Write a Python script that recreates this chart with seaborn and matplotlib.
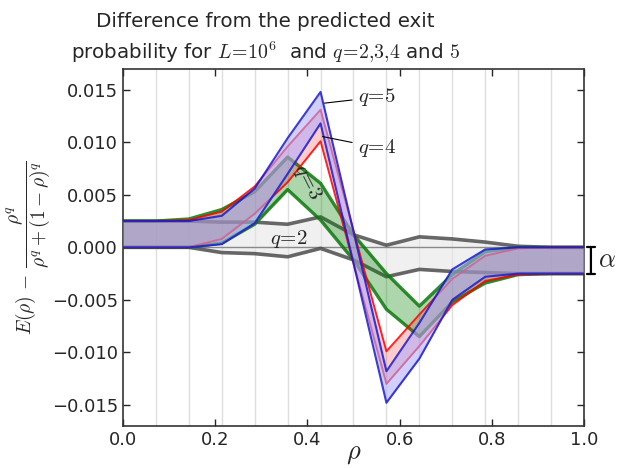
import numpy as np
import pandas as pd
import matplotlib
matplotlib.use('Agg')
import matplotlib.pyplot as plt
import seaborn as sns

# rho sampled at k/14
rho = np.arange(15) / 14.0

q2_hi = [0.0025, 0.0025, 0.0025, 0.0024, 0.0024, 0.0022, 0.0029, 0.0012, 0.0002, 0.0010, 0.0008, 0.0005, 0.0001, 0.0, 0.0]
q2_lo = [0.0, 0.0, 0.0, -0.0005, -0.0006, -0.0009, -0.0001, -0.0012, -0.0028, -0.0021, -0.0023, -0.0024, -0.0025, -0.0025, -0.0025]

q3_hi = [0.0025, 0.0025, 0.0027, 0.0036, 0.0053, 0.0086, 0.0061, 0.0012, -0.0025, -0.0056, -0.0026, -0.0004, 0.0, 0.0, 0.0]
q3_lo = [0.0, 0.0, 0.0, 0.0004, 0.0022, 0.0055, 0.0026, -0.0012, -0.0059, -0.0085, -0.0052, -0.0034, -0.0026, -0.0025, -0.0025]

q4_hi = [0.0025, 0.0025, 0.0026, 0.0034, 0.0058, 0.0096, 0.0131, 0.0016, -0.0099, -0.0064, -0.0030, -0.0008, -0.0001, 0.0, 0.0]
q4_lo = [0.0, 0.0, 0.0, 0.0008, 0.0032, 0.0062, 0.0101, -0.0015, -0.0130, -0.0094, -0.0055, -0.0032, -0.0026, -0.0025, -0.0025]

q5_hi = [0.0025, 0.0025, 0.0025, 0.0030, 0.0056, 0.0104, 0.0148, 0.0015, -0.0118, -0.0072, -0.0021, -0.0002, 0.0, 0.0, 0.0]
q5_lo = [0.0, 0.0, 0.0, 0.0003, 0.0023, 0.0070, 0.0118, -0.0015, -0.0148, -0.0106, -0.0050, -0.0028, -0.0025, -0.0025, -0.0025]

# (label, upper, lower, edge colour, fill colour, fill alpha, edge width)
bands = [
    ('2', q2_hi, q2_lo, '0.3', '0.9', 0.6, 2.6),
    ('3', q3_hi, q3_lo, '#0c780c', 'green', 0.32, 2.4),
    ('4', q4_hi, q4_lo, 'red', 'red', 0.2, 1.4),
    ('5', q5_hi, q5_lo, '#1a1ad0', (0.68, 0.67, 1.0), 0.57, 1.5),
]

sns.set_style('ticks')
plt.rcParams['font.family'] = ['DejaVu Sans']
plt.rcParams['mathtext.fontset'] = 'cm'

fig = plt.figure(figsize=(6.18, 4.68), dpi=100)
ax = fig.add_axes([0.199, 0.09, 0.746, 0.763])

for xv in rho[1:-1]:
    ax.axvline(xv, color='0.87', lw=1, zorder=0)
ax.axhline(0, color='k', lw=1, zorder=1)

z = 2
for q, hi, lo, ec, fc, a, lw in bands:
    df = pd.DataFrame({'rho': rho, 'hi': hi, 'lo': lo})
    ax.fill_between(df.rho, df.lo, df.hi, color=fc, alpha=a, lw=0, zorder=z)
    sns.lineplot(data=df, x='rho', y='hi', color=ec, lw=lw, alpha=0.85, ax=ax, zorder=z + 0.5)
    sns.lineplot(data=df, x='rho', y='lo', color=ec, lw=lw, alpha=0.85, ax=ax, zorder=z + 0.5)
    z += 1

ax.set_xlim(0, 1)
ax.set_ylim(-0.017, 0.017)
ax.set_yticks(np.arange(-0.015, 0.0151, 0.005))
ax.set_xticks(np.arange(0, 1.01, 0.2))
ax.tick_params(direction='in', top=True, right=True, labelsize=13, length=5, width=1)
for s in ax.spines.values():
    s.set_color('0.2')
    s.set_linewidth(1.2)

ax.set_xlabel(r'$\rho$', fontsize=19, labelpad=-6)
ax.set_ylabel(r'$E(\rho)\,-\,\dfrac{\rho^q}{\rho^q+(1-\rho)^q}$', fontsize=14, labelpad=0)
fig.text(0.43, 0.975, 'Difference from the predicted exit\n'
         r'probability for $L\!=\!10^6$  and $q\!=\!2{,}3{,}4$ and $5$',
         fontsize=14.3, ha='center', va='top', linespacing=1.45)

ax.annotate(r'$q\!=\!5$', xy=(0.431, 0.0137), xytext=(0.51, 0.0143), fontsize=15,
            va='center', zorder=10, arrowprops=dict(arrowstyle='-', color='k', lw=0.8))
ax.annotate(r'$q\!=\!4$', xy=(0.427, 0.0106), xytext=(0.51, 0.0095), fontsize=15,
            va='center', zorder=10, arrowprops=dict(arrowstyle='-', color='k', lw=0.8))
ax.text(0.36, 0.0008, r'$q\!=\!2$', fontsize=15, ha='center', va='center', zorder=10)
ax.text(0.40, 0.0062, r'$q\!=\!3$', fontsize=15, ha='center', va='center', rotation=-63, zorder=10)

ax.annotate('', xy=(1.015, 0.0), xytext=(1.015, -0.0025), xycoords='data',
            annotation_clip=False,
            arrowprops=dict(arrowstyle='|-|, widthA=0.3, widthB=0.3', color='k', lw=1.6,
                            shrinkA=0, shrinkB=0))
ax.text(1.03, -0.0012, r'$\alpha$', fontsize=19, va='center', ha='left', clip_on=False)

fig.savefig('out.png', dpi=100)
